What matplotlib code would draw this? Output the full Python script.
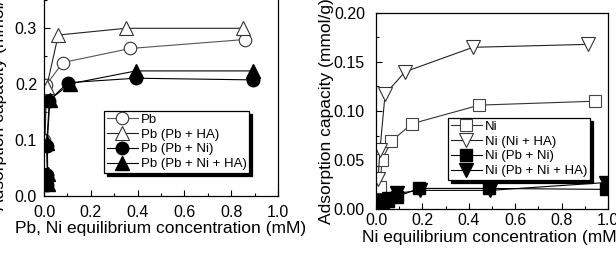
import matplotlib.pyplot as plt
from matplotlib.ticker import MultipleLocator

plt.rcParams['font.family'] = ['Liberation Sans', 'DejaVu Sans']
plt.rcParams['font.size'] = 11.5

# Pb panel (left)
pb_x = [0.002, 0.009, 0.081, 0.368, 0.859]
pb_y = [0.100, 0.198, 0.238, 0.263, 0.279]
pb_ha_x = [0.004, 0.011, 0.061, 0.350, 0.849]
pb_ha_y = [0.100, 0.194, 0.287, 0.299, 0.299]
pb_ni_x = [0.014, 0.014, 0.011, 0.023, 0.101, 0.393, 0.894]
pb_ni_y = [0.020, 0.037, 0.089, 0.170, 0.202, 0.210, 0.207]
pb_niha_x = [0.016, 0.016, 0.014, 0.025, 0.111, 0.393, 0.892]
pb_niha_y = [0.022, 0.040, 0.095, 0.172, 0.200, 0.223, 0.223]

# Ni panel (right)
ni_x = [0.017, 0.026, 0.065, 0.155, 0.445, 0.944]
ni_y = [0.022, 0.050, 0.069, 0.087, 0.106, 0.110]
ni_ha_x = [0.009, 0.017, 0.039, 0.125, 0.418, 0.914]
ni_ha_y = [0.031, 0.060, 0.117, 0.140, 0.165, 0.168]
ni_pb_x = [0.010, 0.030, 0.050, 0.090, 0.186, 0.487, 0.990]
ni_pb_y = [0.005, 0.007, 0.008, 0.0126, 0.021, 0.021, 0.020]
ni_pbha_x = [0.015, 0.035, 0.055, 0.090, 0.190, 0.490, 0.990]
ni_pbha_y = [0.004, 0.008, 0.010, 0.016, 0.019, 0.019, 0.027]

W, H = 616, 259
fig = plt.figure(figsize=(W / 100, H / 100), dpi=100)

ax1 = fig.add_axes([44 / W, (H - 196) / H, 234 / W, 198 / H])
ax2 = fig.add_axes([376 / W, (H - 209) / H, 232 / W, 196 / H])

lw = 0.8
ax1.plot(pb_x, pb_y, '-o', color='#555555', lw=lw, ms=9, mfc='white', mec='#333333', mew=0.8, label='Pb')
ax1.plot(pb_ha_x, pb_ha_y, '-^', color='#222222', lw=lw, ms=10, mfc='white', mec='#333333', mew=0.8, label='Pb (Pb + HA)')
ax1.plot(pb_ni_x, pb_ni_y, '-o', color='black', lw=lw, ms=9, mfc='black', mec='black', label='Pb (Pb + Ni)')
ax1.plot(pb_niha_x, pb_niha_y, '-^', color='black', lw=lw, ms=10, mfc='black', mec='black', label='Pb (Pb + Ni + HA)')

ax2.plot(ni_x, ni_y, '-s', color='#333333', lw=lw, ms=8, mfc='white', mec='#444444', mew=0.8, label='Ni')
ax2.plot(ni_ha_x, ni_ha_y, '-v', color='#222222', lw=lw, ms=10, mfc='white', mec='#333333', mew=0.8, label='Ni (Ni + HA)')
ax2.plot(ni_pb_x, ni_pb_y, '-s', color='black', lw=lw, ms=9, mfc='black', mec='black', label='Ni (Pb + Ni)')
ax2.plot(ni_pbha_x, ni_pbha_y, '-v', color='black', lw=lw, ms=10, mfc='black', mec='black', label='Ni (Pb + Ni + HA)')

ax1.set_xlim(0, 1.0)
ax1.set_ylim(0, 0.353)
ax1.xaxis.set_minor_locator(MultipleLocator(0.1))
ax1.yaxis.set_minor_locator(MultipleLocator(0.05))
ax1.set_xticks([0, 0.2, 0.4, 0.6, 0.8, 1.0])
ax1.set_xticklabels(['0.0', '0.2', '0.4', '0.6', '0.8', '1.0'])
ax1.set_yticks([0, 0.1, 0.2, 0.3])
ax1.set_yticklabels(['0.0', '0.1', '0.2', '0.3'])
ax1.set_xlabel('Pb, Ni equilibrium concentration (mM)', fontsize=12.5, labelpad=1)
ax1.set_ylabel('Adsorption capacity (mmol/g)', fontsize=12.5)
ax1.yaxis.set_label_coords(-0.158, 0.5)
ax1.tick_params(axis='x', which='major', pad=6.5)
ax1.tick_params(axis='y', which='major', pad=5)

ax2.set_xlim(0, 1.0)
ax2.set_ylim(0, 0.2)
ax2.xaxis.set_minor_locator(MultipleLocator(0.1))
ax2.yaxis.set_minor_locator(MultipleLocator(0.025))
ax2.set_xticks([0, 0.2, 0.4, 0.6, 0.8, 1.0])
ax2.set_xticklabels(['0.0', '0.2', '0.4', '0.6', '0.8', '1.0'])
ax2.set_yticks([0, 0.05, 0.1, 0.15, 0.2])
ax2.set_yticklabels(['0.00', '0.05', '0.10', '0.15', '0.20'])
ax2.set_xlabel('Ni equilibrium concentration (mM)', fontsize=12.5, labelpad=1)
ax2.set_ylabel('Adsorption capacity (mmol/g)', fontsize=12.5)
ax2.yaxis.set_label_coords(-0.18, 0.5)
ax2.tick_params(axis='x', which='major', pad=3)
ax2.tick_params(axis='y', which='major', pad=8)

for ax in (ax1, ax2):
    ax.tick_params(which='major', direction='in', length=4, width=0.8)
    ax.tick_params(which='minor', direction='in', length=2.5, width=0.8)
    for s in ax.spines.values():
        s.set_linewidth(0.9)

shadow = {'color': 'black', 'alpha': 1, 'ox': 2.2, 'oy': -2.2}
leg_kw = dict(loc='lower left', fontsize=9.5, frameon=True, fancybox=False,
              edgecolor='black', framealpha=1, borderaxespad=0, borderpad=0.2,
              labelspacing=0.2, handlelength=2.4, handletextpad=0.2,
              shadow=shadow)
l1 = ax1.legend(bbox_to_anchor=(0.256, 0.041), bbox_transform=ax1.transData, **leg_kw)
l2 = ax2.legend(bbox_to_anchor=(0.31, 0.0296), bbox_transform=ax2.transData, **leg_kw)
for l in (l1, l2):
    l.get_frame().set_linewidth(0.9)

fig.savefig('out.png', dpi=100)
